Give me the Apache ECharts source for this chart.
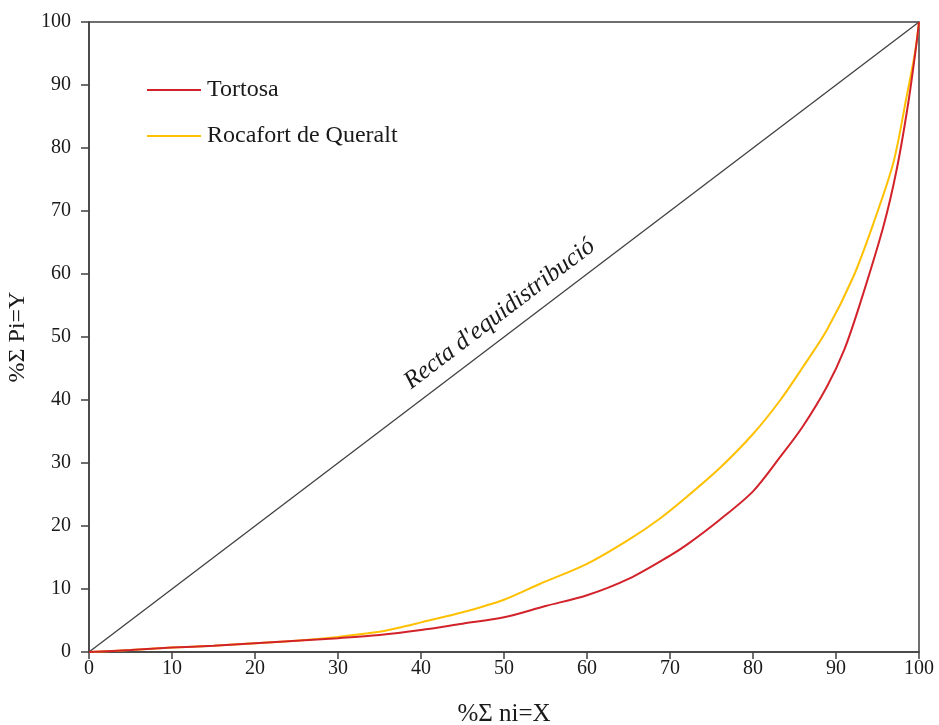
<!DOCTYPE html>
<html>
<head>
<meta charset="utf-8">
<script src="https://cdn.jsdelivr.net/npm/echarts@6/dist/echarts.min.js"></script>
<style>html,body{margin:0;padding:0;background:#fff}#c{width:939px;height:725px}</style>
</head>
<body>
<div id="c"></div>
<script>
const xTicks = [0,10,20,30,40,50,60,70,80,90,100];
const yTicks = [0,10,20,30,40,50,60,70,80,90,100];
const tortosa = [[0,0],[5,0.3],[10,0.7],[15,1.0],[20,1.4],[25,1.8],[30,2.2],[35,2.7],[40,3.5],[45,4.5],[50,5.5],[55,7.3],[60,9.0],[65,11.6],[70,15.3],[72,17],[76,21],[80,25.5],[83.3,31],[86,35.8],[88.9,42.1],[91,48],[92.9,55.3],[95.7,67.5],[97.3,76.5],[98.7,87.1],[99.7,96.6],[100,100]];
const rocafort = [[0,0],[5,0.3],[10,0.7],[15,1.0],[20,1.4],[25,1.8],[30,2.4],[35,3.2],[37.5,3.9],[40,4.7],[45,6.3],[50,8.3],[54.3,10.8],[60,14],[65,17.8],[68.8,21.2],[72,24.6],[76,29.2],[80,34.6],[83.3,40],[86,45.2],[88.9,51.1],[92.1,59.6],[94.5,68],[96.9,77.6],[98.5,88.1],[99.5,95],[100,100]];
const equi = [[0,0],[100,100]];
const names = ['Tortosa','Rocafort de Queralt'];
const lineLabel = "Recta d'equidistribució";

const font = 'Liberation Serif';
const chart = echarts.init(document.getElementById('c'));
chart.setOption({
  animation:false,
  backgroundColor:'#fff',
  grid:{left:89,right:20,top:22,bottom:73,outerBoundsMode:'none',containLabel:false,show:true,borderColor:'#404040',borderWidth:1.5,backgroundColor:'transparent'},
  legend:{data:names,orient:'vertical',left:142,top:73,icon:'rect',itemWidth:54,itemHeight:2,itemGap:22,
    textStyle:{fontFamily:font,fontSize:24,color:'#1a1a1a',padding:[0,0,0,1]}},
  xAxis:{type:'value',min:0,max:100,interval:10,
    name:'%Σ ni=X',nameLocation:'middle',nameGap:50,
    nameTextStyle:{fontFamily:font,fontSize:25,color:'#1a1a1a'},
    axisLine:{lineStyle:{color:'#404040',width:1.5}},
    axisTick:{show:true,length:7,lineStyle:{color:'#404040',width:1.5}},
    axisLabel:{fontFamily:font,fontSize:20,color:'#1a1a1a',margin:7},
    splitLine:{show:false}},
  yAxis:{type:'value',min:0,max:100,interval:10,
    name:'%Σ Pi=Y',nameLocation:'middle',nameGap:58,
    nameTextStyle:{fontFamily:font,fontSize:24,color:'#1a1a1a'},
    axisLine:{show:true,lineStyle:{color:'#404040',width:1.5}},
    axisTick:{show:true,length:8,lineStyle:{color:'#404040',width:1.5}},
    axisLabel:{fontFamily:font,fontSize:20,color:'#1a1a1a',margin:18},
    splitLine:{show:false}},
  series:[
    {name:'equi',type:'line',data:equi,symbol:'none',lineStyle:{color:'#404040',width:1.3},silent:true,z:1},
    {name:names[0],type:'line',data:tortosa,symbol:'none',smooth:0.3,lineStyle:{color:'#d2232a',width:2},itemStyle:{color:'#d2232a'},z:3},
    {name:names[1],type:'line',data:rocafort,symbol:'none',smooth:0.3,lineStyle:{color:'#ffc000',width:2},itemStyle:{color:'#ffc000'},z:2}
  ]
});
const p0 = chart.convertToPixel({gridIndex:0},[0,0]);
const p1 = chart.convertToPixel({gridIndex:0},[100,100]);
const ang = Math.atan2(p0[1]-p1[1], p1[0]-p0[0]);
const pm = chart.convertToPixel({gridIndex:0},[51,51]);
const off = 21;
const cx = pm[0] - off*Math.sin(ang), cy = pm[1] - off*Math.cos(ang);
chart.setOption({graphic:[{type:'text',x:cx,y:cy,rotation:ang,
  style:{text:lineLabel,fontFamily:font,fontStyle:'italic',fontSize:25,fill:'#1a1a1a',align:'center',verticalAlign:'middle'}}]});
</script>
</body>
</html>
